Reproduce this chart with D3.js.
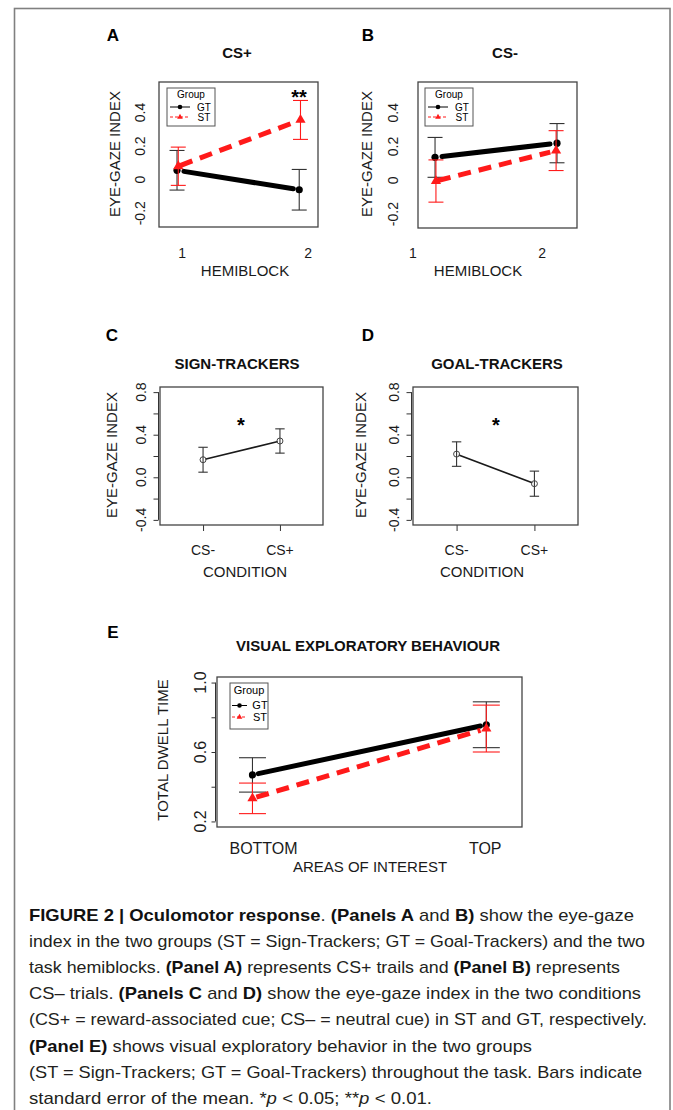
<!DOCTYPE html>
<html>
<head>
<meta charset="utf-8">
<script src="https://cdn.jsdelivr.net/npm/d3@7"></script>
<style>
  body { margin: 0; background: #fff; }
  text { font-family: "Liberation Sans", Arial, sans-serif; }
</style>
</head>
<body>
<div id="fig"></div>
<script>
// ---- data ----
var hemiblocks = [1, 2];
var csPlusGT = [0.056, -0.060], csPlusGTse = [0.118, 0.121];
var csPlusST = [0.080, 0.356], csPlusSTse = [0.114, 0.116];
var csMinusGT = [0.136, 0.220], csMinusGTse = [0.118, 0.116];
var csMinusST = [-0.004, 0.176], csMinusSTse = [0.125, 0.118];

var conditions = ["CS-", "CS+"];
var signTrackers = [0.165, 0.341], signTrackersSe = [0.117, 0.114];
var goalTrackers = [0.218, -0.060], goalTrackersSe = [0.115, 0.118];

var areas = ["BOTTOM", "TOP"];
var dwellGT = [0.468, 0.757], dwellGTse = [0.099, 0.132];
var dwellST = [0.333, 0.735], dwellSTse = [0.088, 0.135];

var ticksAB = [-0.2, 0, 0.2, 0.4], ticksABLabels = ["-0.2", "0", "0.2", "0.4"];
var ticksCD = [-0.4, -0.2, 0, 0.2, 0.4, 0.6, 0.8], ticksCDLabels = ["-0.4", "", "0.0", "", "0.4", "", "0.8"];
var ticksE = [0.2, 0.4, 0.6, 0.8, 1.0], ticksELabels = ["0.2", "", "0.6", "", "1.0"];

var W = 673, H = 1110;
var RED = "#ff1a1a";

var svg = d3.select("#fig").append("svg")
    .attr("width", W).attr("height", H);

// outer frame
svg.append("rect")
    .attr("x", 14.5).attr("y", 8.5)
    .attr("width", 655.5).attr("height", 1200)
    .attr("fill", "none").attr("stroke", "#808080").attr("stroke-width", 1.6);

function rotText(g, x, y, str, size, weight) {
  // text rotated -90, centred on (x, y)
  return g.append("text")
      .attr("transform", "translate(" + (x + 0.36 * size) + "," + y + ") rotate(-90)")
      .attr("text-anchor", "middle")
      .attr("font-size", size)
      .attr("font-weight", weight || "normal")
      .attr("fill", "#1a1a1a")
      .text(str);
}

function drawPanel(p) {
  var g = svg.append("g");
  var b = p.box;
  var x = d3.scaleLinear().domain(p.xDomain).range([b.x0, b.x1]);
  var y = d3.scaleLinear().domain(p.yDomain).range([b.y1, b.y0]);

  // letter + title
  g.append("text").attr("x", p.letter[1]).attr("y", p.letter[2])
      .attr("text-anchor", "middle").attr("font-size", 17).attr("font-weight", "bold")
      .text(p.letter[0]);
  g.append("text").attr("x", p.title[1]).attr("y", p.title[2])
      .attr("text-anchor", "middle").attr("font-size", p.titleSize || 15).attr("font-weight", "bold")
      .attr("fill", "#111")
      .text(p.title[0]);

  // y axis
  var ya = g.append("g")
      .attr("transform", "translate(" + (b.x0 - p.axisGap) + ",0)")
      .call(d3.axisLeft(y).tickValues(p.yTicks).tickSize(p.tickLen).tickFormat(""));
  ya.select(".domain").attr("stroke", "#333")
      .attr("d", "M0," + y(p.yTicks[0]) + "V" + y(p.yTicks[p.yTicks.length - 1]));
  if (p.tickLen === 0) ya.select(".domain").remove();
  ya.selectAll(".tick line").attr("stroke", "#333");
  p.yTicks.forEach(function(v, i) {
    if (p.yLabels[i]) rotText(g, b.x0 + p.yLabelOff, y(v), p.yLabels[i], p.tickSize || 14);
  });
  rotText(g, p.yTitle[1], p.yTitle[2], p.yTitle[0], p.yTitleSize || 15);

  // x axis
  var xa = g.append("g")
      .attr("transform", "translate(0," + b.y1 + ")")
      .call(d3.axisBottom(x).tickValues(p.xTicks).tickSize(p.xTickLen).tickFormat(""));
  xa.select(".domain").remove();
  xa.selectAll(".tick line").attr("stroke", "#333");
  p.xTicks.forEach(function(v, i) {
    g.append("text").attr("x", x(v)).attr("y", p.xLabelY)
        .attr("text-anchor", "middle").attr("font-size", p.tickSize || 14).attr("fill", "#1a1a1a")
        .text(p.xLabels[i]);
  });
  g.append("text").attr("x", p.xTitle[1]).attr("y", p.xTitle[2])
      .attr("text-anchor", "middle").attr("font-size", 15).attr("fill", "#1a1a1a")
      .text(p.xTitle[0]);

  // box
  g.append("rect").attr("x", b.x0).attr("y", b.y0)
      .attr("width", b.x1 - b.x0).attr("height", b.y1 - b.y0)
      .attr("fill", "none").attr("stroke", "#444").attr("stroke-width", 1.3);

  // series
  p.series.forEach(function(s) {
    var pts = s.values.map(function(v, i) {
      return { x: x(p.xTicks[i] + s.dodge[i]), y: y(v), lo: y(v - s.se[i]), hi: y(v + s.se[i]) };
    });
    // error bars
    pts.forEach(function(d) {
      g.append("line").attr("x1", d.x).attr("x2", d.x).attr("y1", d.lo).attr("y2", d.hi)
          .attr("stroke", s.errColor).attr("stroke-width", 1.1);
      [d.lo, d.hi].forEach(function(yy) {
        g.append("line").attr("x1", d.x - p.cap).attr("x2", d.x + p.cap).attr("y1", yy).attr("y2", yy)
            .attr("stroke", s.errColor).attr("stroke-width", 1.1);
      });
    });
    // connecting line with gaps at the ends
    var a = pts[0], c = pts[1];
    var dx = c.x - a.x, dy = c.y - a.y, len = Math.sqrt(dx * dx + dy * dy);
    var ux = dx / len, uy = dy / len;
    g.append("line")
        .attr("x1", a.x + ux * s.gap[0]).attr("y1", a.y + uy * s.gap[0])
        .attr("x2", c.x - ux * s.gap[1]).attr("y2", c.y - uy * s.gap[1])
        .attr("stroke", s.color).attr("stroke-width", s.width)
        .attr("stroke-linecap", s.dash ? "butt" : "round")
        .attr("stroke-dasharray", s.dash || null);
    // points
    pts.forEach(function(d) {
      if (s.shape === "triangle") {
        g.append("path").attr("d", d3.symbol(d3.symbolTriangle, s.size)())
            .attr("transform", "translate(" + d.x + "," + d.y + ")").attr("fill", s.color);
      } else if (s.shape === "open") {
        g.append("circle").attr("cx", d.x).attr("cy", d.y).attr("r", s.size)
            .attr("fill", "none").attr("stroke", "#444").attr("stroke-width", 1);
      } else {
        g.append("circle").attr("cx", d.x).attr("cy", d.y).attr("r", s.size).attr("fill", s.color);
      }
    });
  });

  // significance stars
  if (p.star) {
    g.append("text").attr("x", p.star[1]).attr("y", p.star[2])
        .attr("text-anchor", "middle").attr("font-size", 20).attr("font-weight", "bold")
        .text(p.star[0]);
  }

  // legend
  if (p.legend) {
    var L = p.legend;
    g.append("rect").attr("x", L.x).attr("y", L.y).attr("width", L.w).attr("height", L.h)
        .attr("fill", "#fff").attr("stroke", "#555").attr("stroke-width", 1);
    g.append("text").attr("x", L.x + L.w / 2).attr("y", L.y + L.titleY)
        .attr("text-anchor", "middle").attr("font-size", L.fs).attr("font-family", L.font)
        .text("Group");
    [["GT", "#000", null, "circle"], ["ST", RED, "3,2", "triangle"]].forEach(function(it, i) {
      var yy = L.y + L.rowY[i];
      g.append("line").attr("x1", L.x + L.line[0]).attr("x2", L.x + L.line[1])
          .attr("y1", yy).attr("y2", yy).attr("stroke", it[1]).attr("stroke-width", 1)
          .attr("stroke-dasharray", it[2]);
      var mx = L.x + (L.line[0] + L.line[1]) / 2;
      if (it[3] === "circle") {
        g.append("circle").attr("cx", mx).attr("cy", yy).attr("r", 2.3).attr("fill", "#000");
      } else {
        g.append("path").attr("d", d3.symbol(d3.symbolTriangle, 14)())
            .attr("transform", "translate(" + mx + "," + yy + ")").attr("fill", RED);
      }
      g.append("text").attr("x", L.x + L.textX).attr("y", yy + L.fs * 0.36)
          .attr("text-anchor", "middle").attr("font-size", L.fs).attr("font-family", L.font)
          .text(it[0]);
    });
  }
}

var thickGT = function(vals, se, dodge, gap) {
  return { values: vals, se: se, dodge: dodge, gap: gap, color: "#000", errColor: "#333",
           width: 5, shape: "circle", size: 3.6 };
};
var thickST = function(vals, se, dodge, gap) {
  return { values: vals, se: se, dodge: dodge, gap: gap, color: RED, errColor: RED,
           width: 5, dash: "13,8", shape: "triangle", size: 45 };
};
var thin = function(vals, se) {
  return { values: vals, se: se, dodge: [0, 0], gap: [3, 3], color: "#1a1a1a", errColor: "#333",
           width: 1.6, shape: "open", size: 3 };
};

var legAB = function(x) {
  return { x: x, y: 88, w: 48, h: 38, fs: 10, font: "Liberation Sans, Arial, sans-serif",
           titleY: 10, rowY: [19, 29], line: [3, 23], textX: 37 };
};

// Panel A
drawPanel({
  box: { x0: 159, x1: 318, y0: 82, y1: 227 },
  xDomain: [0.817, 2.079], yDomain: [-0.282, 0.582],
  letter: ["A", 113, 41], title: ["CS+", 237, 58],
  yTicks: ticksAB, yLabels: ticksABLabels, yLabelOff: -19, tickLen: 0, axisGap: 0,
  yTitle: ["EYE-GAZE INDEX", 115, 154],
  xTicks: hemiblocks, xLabels: ["1", "2"], xTickLen: 0, xLabelY: 258,
  xTitle: ["HEMIBLOCK", 245, 276],
  cap: 7.5,
  series: [
    thickGT(csPlusGT, csPlusGTse, [-0.04, -0.07], [7, 6]),
    thickST(csPlusST, csPlusSTse, [-0.03, -0.06], [2, 6])
  ],
  star: ["**", 299, 104],
  legend: legAB(167)
});

// Panel B
drawPanel({
  box: { x0: 418, x1: 577, y0: 82, y1: 228 },
  xDomain: [1.039, 2.271], yDomain: [-0.282, 0.582],
  letter: ["B", 368, 41], title: ["CS-", 505, 58],
  yTicks: ticksAB, yLabels: ticksABLabels, yLabelOff: -25, tickLen: 0, axisGap: 0,
  yTitle: ["EYE-GAZE INDEX", 367, 154],
  xTicks: hemiblocks, xLabels: ["1", "2"], xTickLen: 0, xLabelY: 258,
  xTitle: ["HEMIBLOCK", 478, 276],
  cap: 7.5,
  series: [
    thickGT(csMinusGT, csMinusGTse, [0.171, 0.116], [7, 7]),
    thickST(csMinusST, csMinusSTse, [0.178, 0.109], [2, 6])
  ],
  legend: legAB(425)
});

// Panel C
drawPanel({
  box: { x0: 160, x1: 323, y0: 387, y1: 525 },
  xDomain: [0.44, 2.56], yDomain: [-0.448, 0.848],
  letter: ["C", 112, 341], title: ["SIGN-TRACKERS", 237, 369],
  yTicks: ticksCD, yLabels: ticksCDLabels, yLabelOff: -19.5, tickLen: 5, axisGap: 1.5,
  yTitle: ["EYE-GAZE INDEX", 112, 455],
  xTicks: [1, 2], xLabels: conditions, xTickLen: 6, xLabelY: 555,
  xTitle: ["CONDITION", 245, 577],
  cap: 4.7,
  series: [thin(signTrackers, signTrackersSe)],
  star: ["*", 241, 432]
});

// Panel D
drawPanel({
  box: { x0: 413, x1: 578, y0: 387, y1: 525 },
  xDomain: [0.44, 2.56], yDomain: [-0.448, 0.848],
  letter: ["D", 368, 341], title: ["GOAL-TRACKERS", 497, 369],
  yTicks: ticksCD, yLabels: ticksCDLabels, yLabelOff: -19.5, tickLen: 5, axisGap: 1.5,
  yTitle: ["EYE-GAZE INDEX", 361, 455],
  xTicks: [1, 2], xLabels: conditions, xTickLen: 6, xLabelY: 555,
  xTitle: ["CONDITION", 482, 577],
  cap: 4.7,
  series: [thin(goalTrackers, goalTrackersSe)],
  star: ["*", 496, 432]
});

// Panel E
drawPanel({
  box: { x0: 217, x1: 522, y0: 677, y1: 827 },
  xDomain: [0.79, 2.166], yDomain: [0.168, 1.032],
  letter: ["E", 113, 638], title: ["VISUAL EXPLORATORY BEHAVIOUR", 368, 651],
  yTicks: ticksE, yLabels: ticksELabels, yLabelOff: -17, tickLen: 4, axisGap: 1.5, tickSize: 16,
  yTitle: ["TOTAL DWELL TIME", 163, 750],
  xTicks: [1, 2], xLabels: areas, xTickLen: 0, xLabelY: 854,
  xTitle: ["AREAS OF INTEREST", 370, 872],
  cap: 13.5,
  series: [
    thickGT(dwellGT, dwellGTse, [-0.05, 0.005], [6, 6]),
    thickST(dwellST, dwellSTse, [-0.05, 0.005], [4, 6])
  ],
  legend: { x: 230, y: 683, w: 38, h: 46, fs: 11,
            font: "Liberation Sans Narrow, Liberation Sans, Arial, sans-serif",
            titleY: 11, rowY: [22.5, 34], line: [2, 17], textX: 30 }
});

// ---- caption ----
var captionLines = [
  { w: 605, parts: [["FIGURE 2 | Oculomotor response", "b"], [". ", ""], ["(Panels A", "b"], [" and ", ""], ["B)", "b"], [" show the eye-gaze", ""]] },
  { w: 616, parts: [["index in the two groups (ST = Sign-Trackers; GT = Goal-Trackers) and the two", ""]] },
  { w: 591, parts: [["task hemiblocks. ", ""], ["(Panel A)", "b"], [" represents CS+ trails and ", ""], ["(Panel B)", "b"], [" represents", ""]] },
  { w: 612, parts: [["CS\u2013 trials. ", ""], ["(Panels C", "b"], [" and ", ""], ["D)", "b"], [" show the eye-gaze index in the two conditions", ""]] },
  { w: 618, parts: [["(CS+ = reward-associated cue; CS\u2013 = neutral cue) in ST and GT, respectively.", ""]] },
  { w: 503, parts: [["(Panel E)", "b"], [" shows visual exploratory behavior in the two groups", ""]] },
  { w: 613, parts: [["(ST = Sign-Trackers; GT = Goal-Trackers) throughout the task. Bars indicate", ""]] },
  { w: 403, parts: [["standard error of the mean. *", ""], ["p", "i"], [" < 0.05; **", ""], ["p", "i"], [" < 0.01.", ""]] }
];

var cap = svg.append("g");
captionLines.forEach(function(line, i) {
  var t = cap.append("text")
      .attr("x", 29).attr("y", 921 + i * 26.1)
      .attr("font-size", 17).attr("fill", "#231f20")
      .attr("textLength", line.w).attr("lengthAdjust", "spacingAndGlyphs");
  line.parts.forEach(function(pt) {
    t.append("tspan")
        .attr("font-weight", pt[1] === "b" ? "bold" : "normal")
        .attr("font-style", pt[1] === "i" ? "italic" : "normal")
        .attr("fill", pt[1] === "b" ? "#111" : null)
        .text(pt[0]);
  });
});
</script>
</body>
</html>
